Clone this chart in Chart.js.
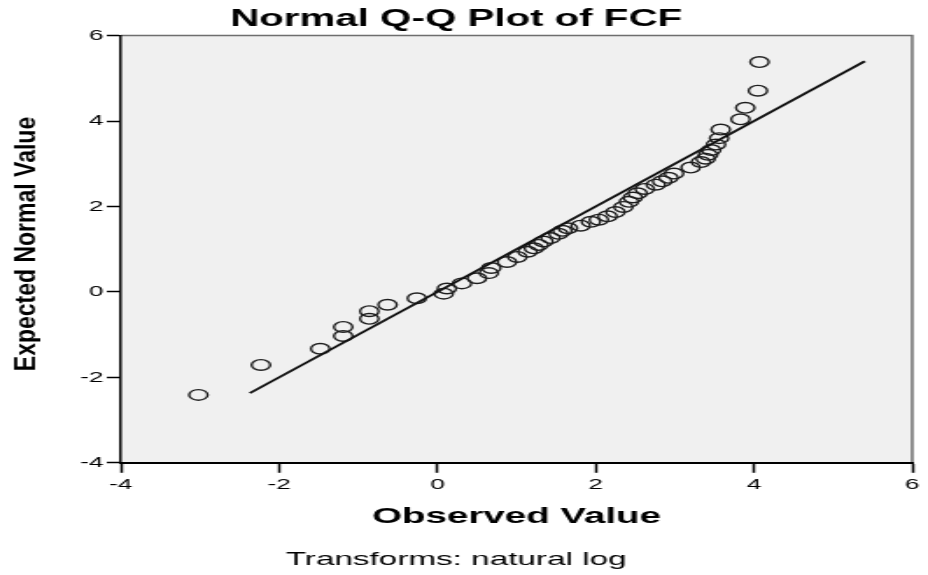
<!DOCTYPE html>
<html>
<head>
<meta charset="utf-8">
<script src="https://cdn.jsdelivr.net/npm/chart.js@4.4.1/dist/chart.umd.min.js"></script>
<style>
  html, body { margin: 0; background: #fff; }
  canvas { display: block; }
</style>
</head>
<body>
<!-- drawn at 530px wide and shown at 928px: the reference is stretched sideways -->
<canvas id="qq" width="530" height="575" style="width:928px;height:575px"></canvas>
<script>
// observed (log) values and their expected normal values
const obsX = [-3.02, -2.23, -1.48, -1.19, -1.19, -0.86, -0.86, -0.63, -0.26, 0.08,
  0.12, 0.31, 0.50, 0.65, 0.68, 0.88, 1.01, 1.14, 1.22, 1.28,
  1.34, 1.43, 1.53, 1.58, 1.65, 1.81, 1.94, 2.04, 2.15, 2.25,
  2.35, 2.42, 2.47, 2.53, 2.62, 2.76, 2.84, 2.92, 2.99, 3.20,
  3.33, 3.39, 3.42, 3.46, 3.52, 3.56, 3.58, 3.83, 3.89, 4.05, 4.07];
const expY = [-2.41, -1.71, -1.33, -1.03, -0.82, -0.63, -0.45, -0.30, -0.15, -0.04,
  0.08, 0.20, 0.32, 0.44, 0.56, 0.70, 0.82, 0.94, 1.02, 1.10,
  1.18, 1.26, 1.36, 1.43, 1.49, 1.55, 1.64, 1.69, 1.77, 1.87,
  1.99, 2.11, 2.21, 2.31, 2.41, 2.51, 2.59, 2.67, 2.77, 2.91,
  3.04, 3.12, 3.21, 3.32, 3.45, 3.60, 3.80, 4.04, 4.31, 4.71, 5.38];

// reference line y = x
const lineX = [-2.37, 5.40];
const lineY = [-2.37, 5.40];

const xTicks = [-4, -2, 0, 2, 4, 6];
const yTicks = [-4, -2, 0, 2, 4, 6];

const FONT = "'Liberation Sans', Arial, sans-serif";

// grey plot area, thin frame on top/right, squeezed y title
const framePlugin = {
  id: 'frame',
  beforeDraw(chart) {
    const { ctx, chartArea: a } = chart;
    ctx.save();
    ctx.fillStyle = '#f0f0f0';
    ctx.fillRect(a.left, a.top, a.width, a.height);
    ctx.strokeStyle = '#6e6e6e';
    ctx.lineWidth = 1.5;
    ctx.beginPath();
    ctx.moveTo(a.left, a.top);
    ctx.lineTo(a.right, a.top);
    ctx.lineTo(a.right, a.bottom);
    ctx.stroke();
    ctx.restore();
  },
  afterDraw(chart) {
    const ctx = chart.ctx;
    ctx.save();
    ctx.translate(15.3, 244);
    ctx.rotate(-Math.PI / 2);
    ctx.scale(1, 0.7);
    ctx.fillStyle = '#000';
    ctx.font = 'bold 23px ' + FONT;
    ctx.textAlign = 'center';
    ctx.textBaseline = 'middle';
    ctx.fillText('Expected Normal Value', 0, 0);
    ctx.restore();
  }
};

new Chart(document.getElementById('qq'), {
  type: 'scatter',
  data: {
    datasets: [
      {
        type: 'line',
        data: lineX.map((x, i) => ({ x, y: lineY[i] })),
        borderColor: '#111',
        borderWidth: 1.9,
        pointRadius: 0,
        fill: false,
      },
      {
        data: obsX.map((x, i) => ({ x, y: expY[i] })),
        pointRadius: 5.3,
        pointBorderWidth: 1.4,
        pointBorderColor: '#1e1e1e',
        pointBackgroundColor: 'rgba(0,0,0,0)',
      },
    ],
  },
  options: {
    responsive: false,
    animation: false,
    devicePixelRatio: 1,
    layout: { padding: { left: 0, right: 9, top: 0, bottom: 0 } },
    plugins: {
      legend: { display: false },
      tooltip: { enabled: false },
      title: {
        display: true,
        text: 'Normal Q-Q Plot of FCF',
        color: '#000',
        font: { family: FONT, size: 23, weight: 'bold' },
        padding: { top: 6, bottom: 2 },
      },
      subtitle: {
        display: true,
        position: 'bottom',
        text: 'Transforms: natural log',
        color: '#000',
        font: { family: FONT, size: 19 },
        padding: { top: 4, bottom: 4 },
      },
    },
    scales: {
      x: {
        type: 'linear',
        min: -4,
        max: 6,
        afterBuildTicks: s => { s.ticks = xTicks.map(v => ({ value: v })); },
        grid: { drawOnChartArea: false, drawTicks: true, tickLength: 10, tickColor: '#000', tickWidth: 1.5 },
        border: { color: '#000', width: 2 },
        ticks: { color: '#000', font: { family: FONT, size: 15 }, padding: 3, maxRotation: 0, autoSkip: false },
        title: {
          display: true,
          text: 'Observed Value',
          color: '#000',
          font: { family: FONT, size: 22, weight: 'bold' },
          padding: { top: 7, bottom: 14 },
        },
      },
      y: {
        type: 'linear',
        min: -4,
        max: 6,
        afterBuildTicks: s => { s.ticks = yTicks.map(v => ({ value: v })); },
        afterFit: s => { s.width = 69; },
        grid: { drawOnChartArea: false, drawTicks: true, tickLength: 8, tickColor: '#000', tickWidth: 1.5 },
        border: { color: '#000', width: 1.5 },
        ticks: { color: '#000', font: { family: FONT, size: 15 }, padding: 2 },
      },
    },
  },
  plugins: [framePlugin],
});
</script>
</body>
</html>
